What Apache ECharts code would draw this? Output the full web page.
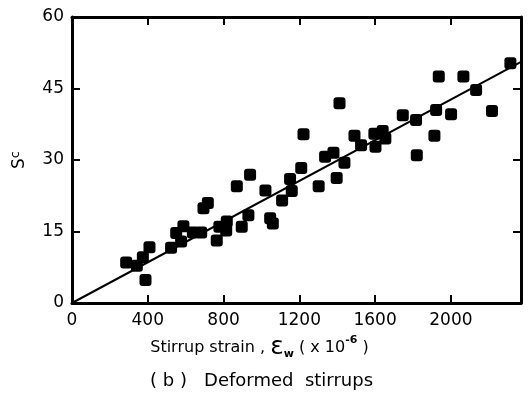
<!DOCTYPE html>
<html><head><meta charset="utf-8">
<script src="https://cdn.jsdelivr.net/npm/echarts@6/dist/echarts.min.js"></script>
<style>html,body{margin:0;padding:0;background:#fff}#c{width:530px;height:402px}</style>
</head><body><div id="c"></div>
<script>
// Stirrup strain (x10^-6)
var strain = [286,342,374,388,409,523,550,576,588,638,682,694,717,764,778,814,817,870,896,931,940,1021,1046,1060,1109,1151,1160,1210,1222,1302,1336,1380,1397,1412,1438,1491,1526,1596,1602,1640,1654,1746,1816,1820,1913,1922,1936,2001,2066,2133,2217,2314];
// S_c values
var sc = [8.5,7.8,9.6,4.8,11.7,11.6,14.7,12.9,16.1,14.8,14.8,19.9,21.0,13.1,16.0,15.2,17.1,24.5,16.0,18.4,26.9,23.6,17.8,16.7,21.5,26.0,23.5,28.3,35.4,24.5,30.7,31.5,26.2,41.9,29.4,35.1,33.1,35.5,32.8,36.1,34.5,39.4,38.4,31.0,35.1,40.5,47.5,39.6,47.5,44.7,40.3,50.3];
// Fitted line endpoints
var fitX = [0, 2370];
var fitY = [0, 50.6];
var xTicks = [0,400,800,1200,1600,2000];
var yTicks = [0,15,30,45,60];

var pts = strain.map(function(v,i){return [v, sc[i]];});
var line = fitX.map(function(v,i){return [v, fitY[i]];});
var font = 'DejaVu Sans';
var chart = echarts.init(document.getElementById('c'));
function axLine(){return {show:true, onZero:false, lineStyle:{color:'#000', width:3}};}
function tick(){return {show:true, inside:true, length:8, lineStyle:{color:'#000', width:2}};}
chart.setOption({
  animation:false,
  backgroundColor:'#fff',
  title:{text:'( b )   Deformed  stirrups', left:145, top:367, textStyle:{fontFamily:font, fontSize:18, fontWeight:'normal', color:'#000'}},
  grid:{left:72, right:9, top:17, bottom:99},
  xAxis:[{
    type:'value', min:0, max:2370, interval:400,
    axisLine:axLine(), axisTick:tick(), splitLine:{show:false},
    axisLabel:{fontFamily:font, fontSize:17, color:'#000', margin:9, showMaxLabel:false,
      formatter:function(v){return xTicks.indexOf(v)>=0 ? String(v) : '';}},
    name:'Stirrup strain , {e|ε}{sub|w} ( x 10{sup|-6} )', nameLocation:'middle', nameGap:32,
    nameTextStyle:{fontFamily:font, fontSize:16, color:'#000', padding:[0,74,0,0],
      rich:{e:{fontFamily:font, fontSize:25, color:'#000'}, sub:{fontSize:11, fontWeight:'bold', fontFamily:font, color:'#000', verticalAlign:'bottom', padding:[10,0,0,0]}, sup:{fontSize:11, fontWeight:'bold', fontFamily:font, color:'#000', verticalAlign:'top', padding:[0,0,10,0]}}}
  },{
    type:'value', position:'top', min:0, max:2370, interval:400,
    axisLine:axLine(), axisTick:tick(), axisLabel:{show:false}, splitLine:{show:false}
  }],
  yAxis:[{
    type:'value', min:0, max:60, interval:15,
    axisLine:axLine(), axisTick:tick(), splitLine:{show:false},
    axisLabel:{fontFamily:font, fontSize:17, color:'#000', margin:8,
      formatter:function(v){return yTicks.indexOf(v)>=0 ? String(v) : '';}},
    name:'S{sub|c}', nameLocation:'middle', nameGap:42,
    nameTextStyle:{fontFamily:font, fontSize:17, color:'#000', rich:{sub:{fontFamily:font, fontSize:13, color:'#000', verticalAlign:'bottom', padding:[0,0,8,0]}}}
  },{
    type:'value', position:'right', min:0, max:60, interval:15,
    axisLine:axLine(), axisTick:tick(), axisLabel:{show:false}, splitLine:{show:false}
  }],
  series:[{
    type:'line', data:line, symbol:'none', lineStyle:{color:'#000', width:2}, silent:true, z:3
  },{
    type:'scatter', data:pts, symbol:'roundRect', symbolSize:12, itemStyle:{color:'#000', opacity:1}, z:4
  }]
});
</script></body></html>
